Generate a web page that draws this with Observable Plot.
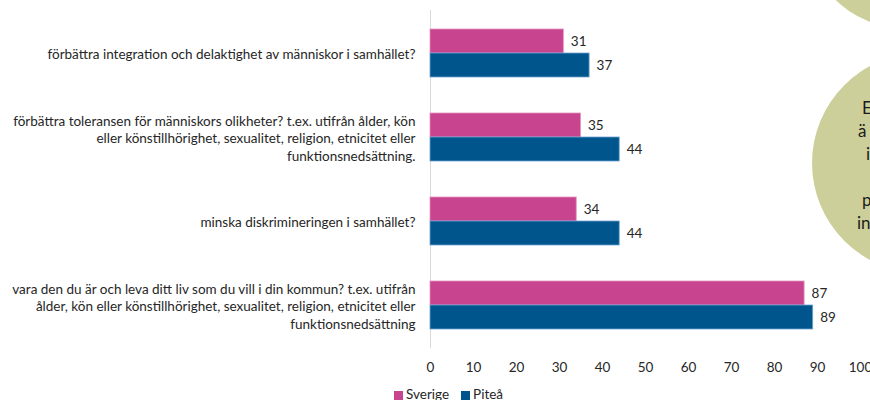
<!DOCTYPE html>
<html><head><meta charset="utf-8">
<script src="https://cdn.jsdelivr.net/npm/d3@7"></script>
<script src="https://cdn.jsdelivr.net/npm/@observablehq/plot@0.6"></script>
<style>
body{margin:0;background:#fff;font-family:Lato,"Open Sans",sans-serif;}
#wrap{position:relative;width:870px;height:400px;overflow:hidden;background:#fff;}
#chart{position:absolute;left:0;top:0;}
.circle{position:absolute;border-radius:50%;background:#CDCF9A;}
.ctext{position:absolute;font-size:17px;color:#1a1a1a;line-height:1;}
#legend{position:absolute;left:394px;top:386px;font-size:13.5px;color:#262626;display:flex;gap:12px;align-items:center;}
#legend span.sw{display:inline-block;width:9px;height:9px;margin-right:3px;vertical-align:-1px;}
</style></head>
<body>
<div id="wrap">
  <div class="circle" style="left:805px;top:-172px;width:200px;height:200px;"></div>
  <div class="circle" style="left:812px;top:53px;width:220px;height:220px;"></div>
  <div id="chart"></div>
  <div class="ctext" style="left:862px;top:99px;">E</div>
  <div class="ctext" style="left:858px;top:122px;">ä</div>
  <div class="ctext" style="left:866px;top:145px;">i</div>
  <div class="ctext" style="left:862px;top:191px;">p</div>
  <div class="ctext" style="left:857px;top:214px;">in</div>
  <div id="legend"></div>
</div>
<script>
const categories = [
  "förbättra integration och delaktighet av människor i samhället?",
  "förbättra toleransen för människors olikheter? t.ex. utifrån ålder, kön\neller könstillhörighet, sexualitet, religion, etnicitet eller\nfunktionsnedsättning.",
  "minska diskrimineringen i samhället?",
  "vara den du är och leva ditt liv som du vill i din kommun? t.ex. utifrån\nålder, kön eller könstillhörighet, sexualitet, religion, etnicitet eller\nfunktionsnedsättning"
];
const series = ["Sverige", "Piteå"];
const colors = ["#C8448E", "#00558C"];
const sverige = [31, 35, 34, 87];
const pitea = [37, 44, 44, 89];
const xTicks = [0, 10, 20, 30, 40, 50, 60, 70, 80, 90, 100];

const rowsS = categories.map((c, i) => ({category: c, series: series[0], value: sverige[i]}));
const rowsP = categories.map((c, i) => ({category: c, series: series[1], value: pitea[i]}));

const chart = Plot.plot({
  width: 870,
  height: 380,
  marginLeft: 430,
  marginRight: 10,
  marginTop: 10,
  marginBottom: 32,
  style: {fontFamily: "Lato, 'Open Sans', sans-serif", fontSize: "13.5px", color: "#262626", background: "transparent", overflow: "visible"},
  x: {domain: [0, 100], label: null},
  y: {domain: categories, paddingInner: 0.432, paddingOuter: 0.216, label: null},
  color: {domain: series, range: colors},
  marks: [
    Plot.ruleX([0], {stroke: "#d9d9d9", strokeWidth: 1}),
    Plot.barX(rowsS, {x: "value", y: "category", fill: "series", insetBottom: 24, stroke: "#e58fbd", strokeWidth: 0.8}),
    Plot.barX(rowsP, {x: "value", y: "category", fill: "series", insetTop: 24, stroke: "#6fa3cf", strokeWidth: 0.8}),
    Plot.text(rowsS, {x: "value", y: "category", text: "value", dx: 7, dy: -12, textAnchor: "start", fill: "#262626", fontSize: 13.5}),
    Plot.text(rowsP, {x: "value", y: "category", text: "value", dx: 7, dy: 12, textAnchor: "start", fill: "#262626", fontSize: 13.5}),
    Plot.axisX({ticks: xTicks, tickSize: 0, tickPadding: 14, fontSize: 13.5, fill: "#262626"}),
    Plot.axisY({tickSize: 0, tickPadding: 15, fontSize: 13.5, lineHeight: 1.3, fill: "#262626"})
  ]
});
document.getElementById("chart").appendChild(chart);

const legend = document.getElementById("legend");
series.forEach((s, i) => {
  const item = document.createElement("div");
  item.innerHTML = `<span class="sw" style="background:${colors[i]}"></span>${s}`;
  legend.appendChild(item);
});
</script>
</body></html>
